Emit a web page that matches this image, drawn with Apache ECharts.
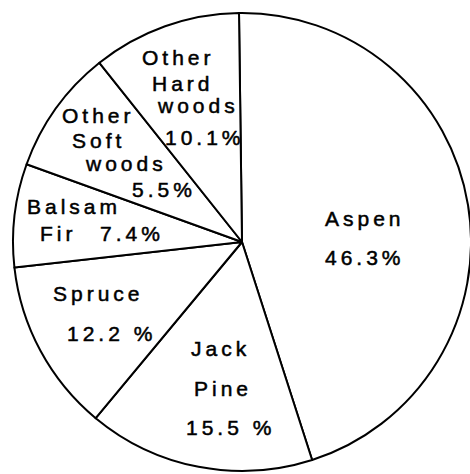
<!DOCTYPE html>
<html>
<head>
<meta charset="utf-8">
<script src="https://cdn.jsdelivr.net/npm/echarts@6/dist/echarts.min.js"></script>
<style>
  html, body { margin: 0; padding: 0; background: #fff; }
  #main { width: 470px; height: 474px; }
  #main text { letter-spacing: 4px; }
</style>
</head>
<body>
<div id="main"></div>
<script>
// ---- data ----
const categories = ['Aspen', 'Jack Pine', 'Spruce', 'Balsam Fir', 'Other Soft woods', 'Other Hard woods'];
// angular share of each slice as drawn in the picture (percent of the circle)
const drawnShare = [45.3, 16.0, 12.2, 7.3, 8.8, 10.5];
// percentages printed on the picture
const printedPct = ['46.3%', '15.5 %', '12.2 %', '7.4%', '5.5%', '10.1%'];

// ---- label placement (left x, centre y of each word / percentage) ----
const tokenPos = [
  [[325, 218], [325, 257]],
  [[191, 348], [194, 388], [186, 427]],
  [[53, 293], [67, 333]],
  [[27, 206], [40, 233], [100, 233]],
  [[62, 115], [72, 140], [86, 163], [132, 189]],
  [[142, 57], [152, 83], [158, 105], [165, 137]]
];

const FONT_SIZE = 21;
const FONT_FAMILY = 'Liberation Sans';
const mctx = document.createElement('canvas').getContext('2d');
mctx.font = FONT_SIZE + 'px "' + FONT_FAMILY + '"';
const measure = t => mctx.measureText(t).width;

let styleId = 0;
const labelInfo = categories.map((name, i) => {
  const words = name.split(' ').concat([printedPct[i]]);
  const pos = tokenPos[i];
  const rows = [];
  words.forEach((w, k) => {
    const [x, y] = pos[k];
    let row = rows.find(r => r.y === y);
    if (!row) { row = { y, tokens: [] }; rows.push(row); }
    row.tokens.push({ text: w, x });
  });
  const left = Math.min(...pos.map(p => p[0]));
  const heights = [];
  rows.forEach((r, j) => {
    if (j === 0) heights.push(rows.length > 1 ? rows[1].y - rows[0].y : 24);
    else heights.push(2 * (rows[j].y - rows[j - 1].y) - heights[j - 1]);
  });
  const top = rows[0].y - heights[0] / 2;
  const rich = {};
  const lines = rows.map((r, j) => {
    let cursor = left;
    return r.tokens.map(tk => {
      const id = 's' + (styleId++);
      const pad = Math.max(0, tk.x - cursor);
      rich[id] = {
        align: 'left',
        lineHeight: heights[j],
        padding: [0, 0, 0, pad],
        fontSize: FONT_SIZE,
        fontFamily: FONT_FAMILY,
        color: '#000',
        textBorderColor: '#000',
        textBorderWidth: 0.5
      };
      cursor = tk.x + measure(tk.text);
      return '{' + id + '|' + tk.text + '}';
    }).join('');
  });
  return { text: lines.join('\n'), rich, left, top };
});

const chart = echarts.init(document.getElementById('main'), null, { renderer: 'svg' });
chart.setOption({
  backgroundColor: '#fff',
  animation: false,
  series: [{
    type: 'pie',
    center: [242, 242],
    radius: 229,
    startAngle: 90.75,
    clockwise: true,
    avoidLabelOverlap: false,
    silent: true,
    itemStyle: { color: '#fff', borderColor: '#000', borderWidth: 2 },
    emphasis: { disabled: true },
    labelLine: { show: false },
    data: categories.map((name, i) => ({
      name,
      value: drawnShare[i],
      label: {
        show: true,
        position: 'inside',
        formatter: labelInfo[i].text,
        rich: labelInfo[i].rich,
        fontSize: FONT_SIZE,
        fontFamily: FONT_FAMILY,
        color: '#000'
      }
    })),
    labelLayout: function (p) {
      const L = labelInfo[p.dataIndex];
      return { x: L.left, y: L.top, align: 'left', verticalAlign: 'top' };
    }
  }]
});
</script>
</body>
</html>
